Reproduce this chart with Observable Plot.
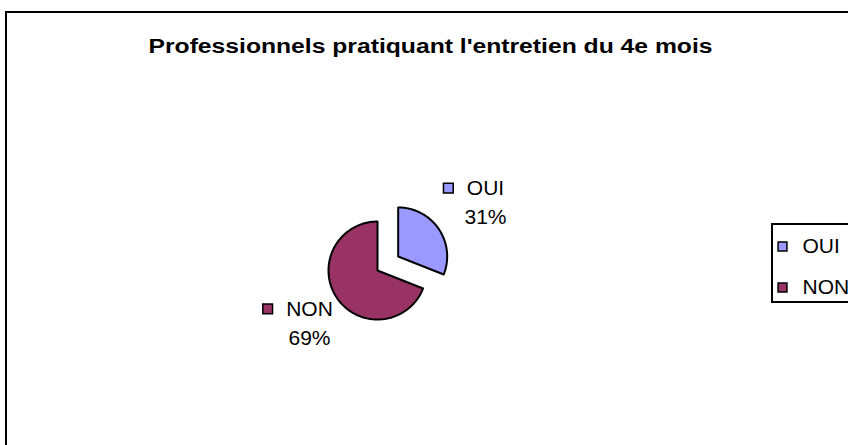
<!DOCTYPE html>
<html><head><meta charset="utf-8">
<script src="https://cdn.jsdelivr.net/npm/d3@7"></script>
<script src="https://cdn.jsdelivr.net/npm/@observablehq/plot@0.6"></script>
<style>
body{margin:0;background:#fff;}
#wrap{position:relative;width:848px;height:445px;overflow:hidden;background:#fff;}
#border{position:absolute;left:5px;top:11px;width:900px;height:500px;border:2px solid #000;}
#legendbox{position:absolute;left:771px;top:223px;width:120px;height:76px;border:2px solid #000;}
#chart{position:absolute;left:0;top:0;}
</style></head><body>
<div id="wrap"><div id="border"></div><div id="legendbox"></div><div id="chart"></div></div>
<script>
// ---- data ----
const categories = ["OUI", "NON"];
const values = [31, 69];
const percentLabels = ["31%", "69%"];
const colors = ["#9999FF", "#993366"];
const title = "Professionnels pratiquant l'entretien du 4e mois";

// ---- layout ----
const W = 848, H = 445;
const cx = 377, cy = 270, R = 49;
const explode = [25, 0];
const labelGap = 5, swatch = 11, swGap = 13, boxH = 46;
const legendX = 782, legendY0 = 246, legendStep = 41;
const fontFamily = "'Liberation Sans', Arial, sans-serif";
const labelSize = 21;

const ctx = document.createElement("canvas").getContext("2d");
ctx.font = `${labelSize}px ${fontFamily}`;
const tw = s => ctx.measureText(s).width;

const arcs = d3.pie().sort(null).value(d => d)(values);
const polys = [];
const labels = [];
arcs.forEach((a, i) => {
  const mid = (a.startAngle + a.endAngle) / 2;
  const dx = Math.sin(mid), dy = -Math.cos(mid);
  const ox = cx + explode[i] * dx, oy = cy + explode[i] * dy;
  const n = 120;
  polys.push({cat: categories[i], x: ox, y: oy});
  for (let k = 0; k <= n; k++) {
    const t = a.startAngle + (a.endAngle - a.startAngle) * k / n;
    polys.push({cat: categories[i], x: ox + R * Math.sin(t), y: oy - R * Math.cos(t)});
  }
  polys.push({cat: categories[i], x: ox, y: oy});
  // label box: nearest corner on the bisector, just outside the arc
  const kx = ox + (R + labelGap) * dx, ky = oy + (R + labelGap) * dy;
  const nameW = tw(categories[i]);
  const boxW = Math.max(swatch + swGap + nameW, tw(percentLabels[i]));
  const left = dx >= 0 ? kx : kx - boxW;
  const top = dy >= 0 ? ky : ky - boxH;
  const nameX = left + swatch + swGap + nameW / 2;
  labels.push({cat: categories[i], pct: percentLabels[i],
    swX: left + swatch / 2, nameX, y1: top + 8, y2: top + boxH - 9});
});
const legend = categories.map((c, i) => ({cat: c, x: legendX, y: legendY0 + i * legendStep}));

const plot = Plot.plot({
  width: W, height: H, margin: 0,
  style: {background: "transparent", fontFamily},
  x: {domain: [0, W], range: [0, W], axis: null},
  y: {domain: [0, H], range: [0, H], axis: null},
  color: {domain: categories, range: colors},
  marks: [
    Plot.text([title], {x: () => 430, y: () => 46, text: d => d, fontSize: 20, fontWeight: "bold", fill: "#000", className: "title"}),
    Plot.line(polys, {x: "x", y: "y", z: "cat", fill: "cat", stroke: "#000", strokeWidth: 2, strokeLinejoin: "round", curve: "linear"}),
    // data labels
    Plot.dot(labels, {x: "swX", y: "y1", symbol: "square", r: 5.5, fill: "cat", stroke: "#000", strokeWidth: 1.5}),
    Plot.text(labels, {x: "nameX", y: "y1", text: "cat", fontSize: labelSize, fill: "#000"}),
    Plot.text(labels, {x: "nameX", y: "y2", text: "pct", fontSize: labelSize, fill: "#000"}),
    // legend
    Plot.dot(legend, {x: "x", y: "y", symbol: "square", r: 5, fill: "cat", stroke: "#000", strokeWidth: 1.5}),
    Plot.text(legend, {x: d => d.x + 20, y: "y", text: "cat", textAnchor: "start", fontSize: labelSize, fill: "#000"})
  ]
});
plot.querySelectorAll("g.title text").forEach(t => {
  t.setAttribute("textLength", 564);
  t.setAttribute("lengthAdjust", "spacingAndGlyphs");
});
document.getElementById("chart").appendChild(plot);
</script>
</body></html>
